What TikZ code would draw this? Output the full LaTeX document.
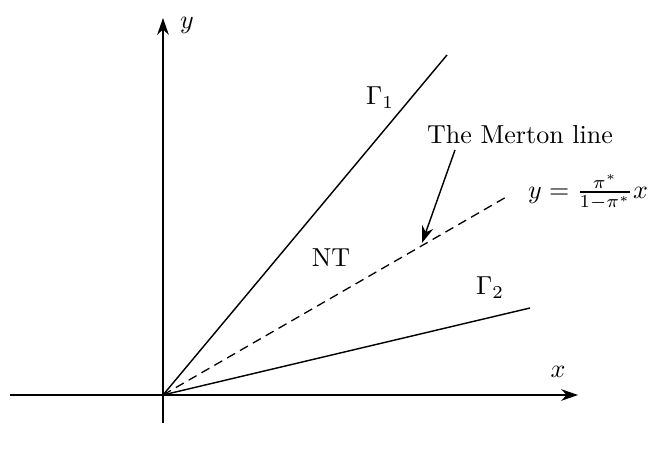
\documentclass[tikz,border=0pt]{standalone}
\usepackage{amsmath,amssymb}
\usepackage{tikz}
\usetikzlibrary{arrows.meta,positioning}

\begin{document}
\begin{tikzpicture}[
  x=0.3846pt,y=-0.3846pt,
  axis/.style={-{Stealth[length=6.5pt,width=4.5pt]},line width=0.6pt},
  region/.style={line width=0.55pt},
  merton/.style={line width=0.5pt,dash pattern=on 3.5pt off 2.2pt},
  pointer/.style={-{Stealth[length=6.5pt,width=4.5pt]},line width=0.55pt}
]
\useasboundingbox (0,0) rectangle (648,450);
\coordinate (origin) at (163,395);
\coordinate (xstart) at (10,395);
\coordinate (xend) at (578,395);
\coordinate (ystart) at (163,423);
\coordinate (yend) at (163,18);
\coordinate (gammaone) at (447,55);
\coordinate (gammatwo) at (530,308);
\coordinate (mertonend) at (508,196);
% axes
\draw[axis] (xstart) -- (xend);
\draw[axis] (ystart) -- (yend);
\node (xlabel) at (558,372) {$x$};
\node (ylabel) at (187,25) {$y$};
% boundaries of the no-trade region
\draw[region] (origin) -- (gammaone);
\draw[region] (origin) -- (gammatwo);
\draw[merton] (origin) -- (mertonend);
\node (gammaonelabel) at (380,98) {$\Gamma_1$};
\node (gammatwolabel) at (490,288) {$\Gamma_2$};
\node (nt) at (331,258) {NT};
\node[anchor=west] (mertoneq) at (519,192) {$y=\frac{\pi^*}{1-\pi^*}x$};
\node (mertonlabel) at (520,135) {The Merton line};
\coordinate (mertonhit) at (422,243);
\draw[pointer] (455,150) -- (mertonhit);
\end{tikzpicture}
\end{document}
